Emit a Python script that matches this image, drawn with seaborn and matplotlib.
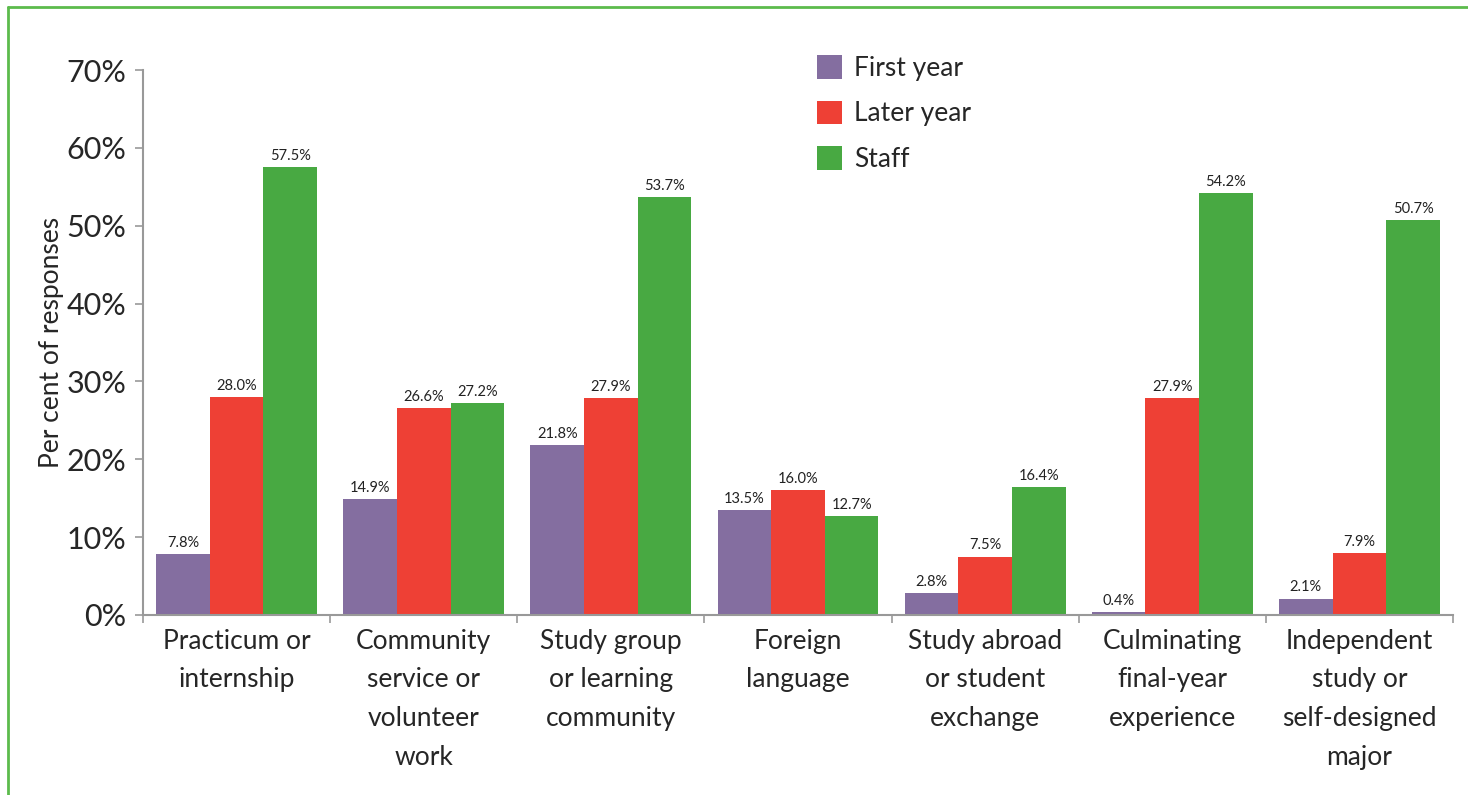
import pandas as pd
import matplotlib.pyplot as plt
import matplotlib.ticker as mticker
from matplotlib.lines import Line2D
import seaborn as sns

# Chart data
categories = [
    "Practicum or\ninternship",
    "Community\nservice or\nvolunteer\nwork",
    "Study group\nor learning\ncommunity",
    "Foreign\nlanguage",
    "Study abroad\nor student\nexchange",
    "Culminating\nfinal-year\nexperience",
    "Independent\nstudy or\nself-designed\nmajor",
]
groups = ["First year", "Later year", "Staff"]
first_year = [7.8, 14.9, 21.8, 13.5, 2.8, 0.4, 2.1]
later_year = [28.0, 26.6, 27.9, 16.0, 7.5, 27.9, 7.9]
staff = [57.5, 27.2, 53.7, 12.7, 16.4, 54.2, 50.7]
y_ticks = [0, 10, 20, 30, 40, 50, 60, 70]

colors = ["#846ea0", "#ee4035", "#48a942"]

df = pd.DataFrame({
    "Category": categories * 3,
    "Group": [g for g in groups for _ in categories],
    "Percent": first_year + later_year + staff,
})

sns.set_theme(style="white")
plt.rcParams["font.family"] = ["Lato", "DejaVu Sans"]

fig = plt.figure(figsize=(14.68, 7.95), dpi=100)
ax = fig.add_axes([143 / 1468, 1 - 615 / 795, 1310 / 1468, 545 / 795])

sns.barplot(data=df, x="Category", y="Percent", hue="Group", order=categories,
            hue_order=groups, palette=colors, width=0.86, saturation=1,
            edgecolor="none", linewidth=0, ax=ax)

for cont in ax.containers:
    ax.bar_label(cont, fmt="%.1f%%", fontsize=10.5, padding=3, color="#222222")

ax.set_xlim(-0.5, len(categories) - 0.5)
ax.set_ylim(0, 70)
ax.set_yticks(y_ticks)
ax.yaxis.set_major_formatter(mticker.FuncFormatter(lambda v, p: f"{v:.0f}%"))

# group boundaries as ticks, labels centred on the groups
ax.set_xticks([i - 0.5 for i in range(len(categories) + 1)])
ax.set_xticklabels([])
ax.set_xticks(range(len(categories)), minor=True)
ax.set_xticklabels(categories, minor=True, fontsize=19, linespacing=1.68)
ax.tick_params(axis="x", which="minor", bottom=False, length=0, pad=10)
ax.tick_params(axis="x", which="major", bottom=True, length=6, width=1.2,
               color="#999999", direction="out")
ax.tick_params(axis="y", left=True, length=6, width=1.2, color="#999999",
               direction="out", labelsize=22, pad=6)

for side in ["top", "right"]:
    ax.spines[side].set_visible(False)
for side in ["left", "bottom"]:
    ax.spines[side].set_color("#999999")
    ax.spines[side].set_linewidth(1.5)

ax.set_xlabel("")
ax.set_ylabel("Per cent of responses", fontsize=19, labelpad=2)

leg = ax.legend(loc="upper left", bbox_to_anchor=(817 / 1468, 1 - 55 / 795),
                bbox_transform=fig.transFigure, frameon=False, fontsize=19,
                handlelength=0.95, handleheight=1.0, handletextpad=0.45,
                labelspacing=0.75, borderpad=0, borderaxespad=0)

# green frame (left and top edges)
fig.add_artist(Line2D([8 / 1468, 8 / 1468], [0, 1 - 7 / 795], transform=fig.transFigure,
                      color="#5cbb4c", linewidth=2))
fig.add_artist(Line2D([8 / 1468, 1], [1 - 7 / 795, 1 - 7 / 795], transform=fig.transFigure,
                      color="#5cbb4c", linewidth=2))

plt.savefig("out.png", dpi=100)
